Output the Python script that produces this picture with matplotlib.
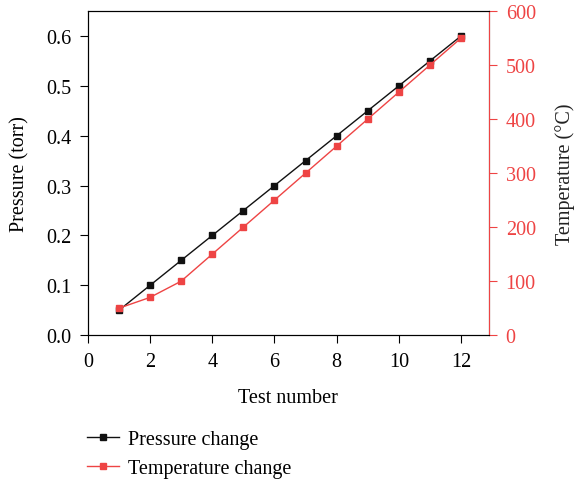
import numpy as np
import matplotlib.pyplot as plt

plt.rcParams['font.family'] = ['Liberation Serif', 'DejaVu Serif']
plt.rcParams['font.size'] = 14.5

tests = [1, 2, 3, 4, 5, 6, 7, 8, 9, 10, 11, 12]
pressure = [0.05, 0.10, 0.15, 0.20, 0.25, 0.30, 0.35, 0.40, 0.45, 0.50, 0.55, 0.60]
temperature = [50, 70, 100, 150, 200, 250, 300, 350, 400, 450, 500, 550]

red = '#ee4444'

fig = plt.figure(figsize=(5.74, 4.81), dpi=100)
ax = fig.add_axes([0.153, 0.301, 0.699, 0.674])
ax2 = ax.twinx()

l1, = ax.plot(tests, pressure, color='#111111', marker='s', markersize=5, lw=1.0,
              label='Pressure change')
l2, = ax2.plot(tests, temperature, color=red, marker='s', markersize=5, lw=1.0,
               label='Temperature change')

ax.set_xlim(0, 12.9)
ax.set_ylim(0, 0.65)
ax.set_xticks([0, 2, 4, 6, 8, 10, 12])
ax.set_yticks([0.0, 0.1, 0.2, 0.3, 0.4, 0.5, 0.6])
ax.set_yticklabels(['0.0', '0.1', '0.2', '0.3', '0.4', '0.5', '0.6'])
ax2.set_ylim(0, 600)
ax2.set_yticks([0, 100, 200, 300, 400, 500, 600])

ax.tick_params(length=6, pad=6)
ax2.tick_params(length=6, pad=6)

ax.set_xlabel('Test number', labelpad=12)
ax.set_ylabel('Pressure (torr)', labelpad=12)
ax2.set_ylabel('Temperature (\u00b0C)', labelpad=14)

ax2.spines['right'].set_color(red)
ax2.tick_params(axis='y', colors=red)
ax2.yaxis.label.set_color('#222222')

fig.legend(handles=[l1, l2], loc='upper left', bbox_to_anchor=(0.138, 0.12),
           frameon=False, handlelength=1.6, handletextpad=0.4, labelspacing=0.45,
           fontsize=14.5, borderaxespad=0)

fig.savefig('out.png', dpi=100)
